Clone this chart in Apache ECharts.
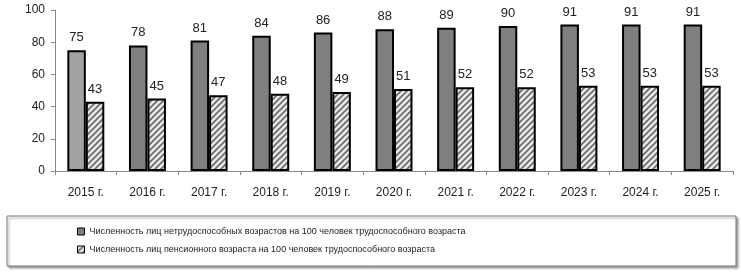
<!DOCTYPE html>
<html><head><meta charset="utf-8">
<script src="https://cdn.jsdelivr.net/npm/echarts@6/dist/echarts.min.js"></script>
<style>html,body{margin:0;padding:0;background:#fff}#c{width:741px;height:273px}</style>
</head><body><div id="c"></div>
<script>
const categories = ['2015 г.','2016 г.','2017 г.','2018 г.','2019 г.','2020 г.','2021 г.','2022 г.','2023 г.','2024 г.','2025 г.'];
const nonWorking = [75,78,81,84,86,88,89,90,91,91,91];
const pension = [43,45,47,48,49,51,52,52,53,53,53];
const seriesNames = ['Численность лиц нетрудоспособных возрастов на 100 человек трудоспособного возраста','Численность лиц пенсионного возраста на 100 человек трудоспособного возраста'];

function hatch(){
  const c=document.createElement('canvas'); c.width=6; c.height=6;
  const g=c.getContext('2d');
  g.fillStyle='#e8e8e8'; g.fillRect(0,0,6,6);
  g.strokeStyle='#6a6a6a'; g.lineWidth=1.6;
  g.beginPath();
  g.moveTo(0,6); g.lineTo(6,0);
  g.moveTo(-3,3); g.lineTo(3,-3);
  g.moveTo(3,9); g.lineTo(9,3);
  g.stroke();
  return c;
}
const pat={image:hatch(),repeat:'repeat'};
const chart=echarts.init(document.getElementById('c'));
const lbl={show:true,position:'top',distance:6,color:'#222',fontSize:13,fontFamily:'Liberation Sans, Arial'};
chart.setOption({
  animation:false,
  textStyle:{fontFamily:'Liberation Sans, Arial'},
  grid:{left:55,right:8,top:10,bottom:102},
  graphic:[{type:'rect',shape:{x:7,y:216,width:729,height:50},style:{fill:'#fff',stroke:'#777',lineWidth:1,shadowColor:'rgba(0,0,0,0.35)',shadowOffsetX:2,shadowOffsetY:2,shadowBlur:2},z:-1}],
  legend:{orient:'vertical',left:72,top:222,itemWidth:7,itemHeight:7,itemGap:9,icon:'rect',
    itemStyle:{borderColor:'#000',borderWidth:1},
    textStyle:{fontSize:9,color:'#222',fontFamily:'Liberation Sans, Arial'},data:seriesNames},
  xAxis:{type:'category',data:categories,
    axisLine:{lineStyle:{color:'#888',width:1}},
    axisTick:{show:true,lineStyle:{color:'#888'},length:4},
    axisLabel:{color:'#222',fontSize:12,margin:16}},
  yAxis:{type:'value',min:0,max:100,interval:20,
    axisLine:{show:true,lineStyle:{color:'#888'}},
    axisTick:{show:true,length:4,lineStyle:{color:'#888'}},
    splitLine:{show:false},
    axisLabel:{color:'#222',fontSize:12,margin:10}},
  series:[
    {name:seriesNames[0],type:'bar',barGap:'0%',barCategoryGap:'40%',
     data:nonWorking.map((v,i)=>i===0?{value:v,itemStyle:{color:'#a3a3a3'}}:v),
     itemStyle:{color:'#7f7f7f',borderColor:'#000',borderWidth:2},label:lbl},
    {name:seriesNames[1],type:'bar',data:pension,
     itemStyle:{color:pat,borderColor:'#000',borderWidth:2},label:lbl}
  ]
});
</script></body></html>
